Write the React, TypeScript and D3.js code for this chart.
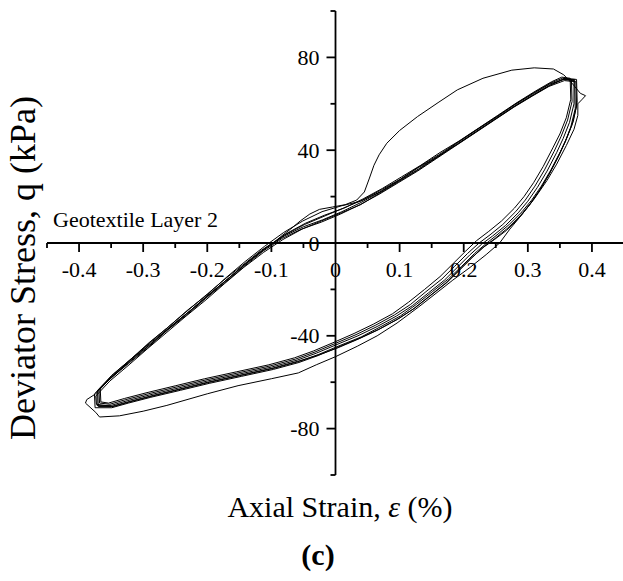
import React from 'react';
import * as d3 from 'd3';

type P = [number, number];

// Axial strain (%) , deviator stress (kPa) – repeated cycles
const cycle1: P[] = [
  [-0.372, -70], [-0.372, -64], [-0.35, -58], [-0.32, -51], [-0.29, -44], [-0.26, -37], [-0.23, -30], [-0.2, -23],
  [-0.17, -16], [-0.14, -9], [-0.11, -2.5], [-0.08, 3], [-0.05, 7], [-0.02, 10], [0.01, 13.5], [0.04, 17.5],
  [0.07, 22], [0.1, 27], [0.13, 32], [0.16, 37.5], [0.19, 42.5], [0.22, 48], [0.25, 53.5], [0.28, 59],
  [0.31, 64], [0.335, 68], [0.355, 70.5], [0.372, 70], [0.372, 60], [0.365, 52], [0.355, 45], [0.345, 39],
  [0.33, 31], [0.315, 24], [0.3, 18], [0.285, 13], [0.265, 7.5], [0.245, 3], [0.228, -0.5], [0.21, -5],
  [0.19, -10.5], [0.17, -16], [0.145, -21.5], [0.12, -27], [0.095, -31.5], [0.065, -36], [0.035, -40], [0.0, -44],
  [-0.03, -47.5], [-0.06, -50.5], [-0.1, -53.5], [-0.15, -56.5], [-0.2, -59.5], [-0.245, -62.5], [-0.29, -65.5],
  [-0.325, -68], [-0.35, -70], [-0.372, -70],
];
const cycle2: P[] = [
  [-0.368, -69], [-0.369, -63], [-0.347, -57.5], [-0.318, -50], [-0.288, -43.5], [-0.257, -36], [-0.228, -29.5],
  [-0.197, -22], [-0.168, -15.5], [-0.138, -8.5], [-0.108, -2], [-0.079, 3.5], [-0.048, 8], [-0.018, 11.5],
  [0.012, 15], [0.042, 18.5], [0.072, 23], [0.101, 27.5], [0.131, 33], [0.161, 38], [0.191, 43.5], [0.221, 49],
  [0.252, 54.5], [0.281, 60], [0.311, 65], [0.336, 69], [0.354, 71], [0.368, 70.5], [0.369, 61], [0.362, 53],
  [0.352, 46], [0.341, 39.5], [0.326, 31.5], [0.311, 24.5], [0.296, 18.5], [0.281, 13.5], [0.261, 8], [0.241, 3.5],
  [0.224, 0], [0.206, -4.5], [0.186, -10], [0.166, -15.5], [0.141, -21], [0.117, -26.5], [0.092, -31], [0.062, -35.5],
  [0.032, -39.5], [-0.002, -43.5], [-0.032, -47], [-0.062, -50], [-0.102, -53], [-0.152, -56], [-0.202, -59],
  [-0.247, -62], [-0.292, -65], [-0.327, -67.5], [-0.352, -69.5], [-0.368, -69],
];
const cycle3: P[] = [
  [-0.375, -71], [-0.376, -65], [-0.354, -59], [-0.323, -52], [-0.292, -45], [-0.262, -37.5], [-0.232, -31],
  [-0.203, -24], [-0.172, -17], [-0.142, -10], [-0.113, -3.5], [-0.083, 2], [-0.053, 6], [-0.022, 9], [0.008, 12.5],
  [0.038, 16.5], [0.068, 21], [0.098, 26], [0.128, 31], [0.158, 36.5], [0.188, 42], [0.218, 47.5], [0.248, 53],
  [0.278, 58.5], [0.308, 63.5], [0.333, 67.5], [0.357, 70], [0.375, 69.5], [0.376, 59], [0.369, 51], [0.359, 44],
  [0.349, 38], [0.334, 30], [0.319, 23], [0.304, 17], [0.289, 12], [0.269, 6.5], [0.249, 2], [0.232, -1.5],
  [0.214, -6], [0.194, -11.5], [0.174, -17], [0.149, -22.5], [0.124, -28], [0.099, -32.5], [0.069, -37],
  [0.038, -41], [0.003, -45], [-0.027, -48.5], [-0.057, -51.5], [-0.097, -54.5], [-0.147, -57.5], [-0.197, -60.5],
  [-0.242, -63.5], [-0.288, -66.5], [-0.323, -69], [-0.349, -71], [-0.375, -71],
];
const cycle4: P[] = [
  [-0.37, -70.5], [-0.371, -63.5], [-0.349, -57], [-0.321, -50.5], [-0.291, -43], [-0.262, -36.5], [-0.231, -29],
  [-0.201, -22.5], [-0.171, -15], [-0.141, -8], [-0.111, -1.5], [-0.081, 4.5], [-0.051, 9.5], [-0.021, 13.5],
  [0.009, 16], [0.039, 18], [0.069, 22], [0.099, 27], [0.129, 32.5], [0.159, 37], [0.189, 43], [0.219, 48.5],
  [0.249, 54], [0.279, 59.5], [0.309, 64.5], [0.334, 68.5], [0.356, 70.5], [0.373, 70.5], [0.374, 58], [0.367, 50],
  [0.358, 43.5], [0.347, 37], [0.333, 29.5], [0.318, 22.5], [0.303, 16.5], [0.287, 11], [0.267, 5.5], [0.248, 1.5],
  [0.23, -2], [0.212, -6.5], [0.192, -12], [0.171, -17.5], [0.146, -23], [0.121, -28.5], [0.096, -33], [0.066, -37.5],
  [0.035, -41.5], [0.001, -45.5], [-0.029, -48.5], [-0.059, -51], [-0.099, -54], [-0.149, -57], [-0.199, -60],
  [-0.244, -63], [-0.289, -66], [-0.324, -68.5], [-0.35, -70.5], [-0.37, -70.5],
];
const cycle5: P[] = [
  [-0.366, -68.5], [-0.367, -62.5], [-0.346, -56.5], [-0.317, -49.5], [-0.286, -42.5], [-0.255, -35.5], [-0.226, -29],
  [-0.196, -22], [-0.166, -15], [-0.136, -8], [-0.106, -1.5], [-0.077, 4], [-0.047, 8.5], [-0.017, 12], [0.013, 15],
  [0.043, 19], [0.073, 23.5], [0.103, 28.5], [0.133, 33.5], [0.163, 39], [0.193, 44], [0.223, 49.5], [0.253, 55],
  [0.283, 60.5], [0.312, 65.5], [0.337, 69.5], [0.353, 71.5], [0.366, 71], [0.367, 62], [0.36, 54], [0.35, 47],
  [0.339, 41], [0.324, 33], [0.309, 26], [0.294, 20], [0.279, 15], [0.259, 9.5], [0.239, 5], [0.22, 1], [0.203, -3.5],
  [0.183, -9], [0.163, -14.5], [0.139, -20], [0.114, -25.5], [0.089, -30.5], [0.059, -35], [0.029, -39], [-0.004, -43],
  [-0.034, -46.5], [-0.064, -49.5], [-0.104, -52.5], [-0.154, -55.5], [-0.204, -58.5], [-0.249, -61.5],
  [-0.294, -64.5], [-0.329, -67], [-0.354, -69], [-0.366, -68.5],
];
const cycle6: P[] = [
  [-0.373, -69.5], [-0.374, -66], [-0.352, -59.5], [-0.322, -52.5], [-0.293, -45.5], [-0.263, -38.5], [-0.233, -31.5],
  [-0.202, -24.5], [-0.173, -17.5], [-0.143, -10.5], [-0.112, -4], [-0.082, 1.5], [-0.052, 6], [-0.022, 9.5],
  [0.009, 13], [0.039, 16.5], [0.069, 21.5], [0.099, 26.5], [0.129, 31.5], [0.159, 37], [0.189, 42.5], [0.219, 48],
  [0.249, 53.5], [0.279, 59], [0.309, 64], [0.334, 68], [0.358, 71], [0.376, 70.5], [0.377, 60.5], [0.371, 52.5],
  [0.361, 45.5], [0.351, 39.5], [0.336, 31.5], [0.321, 24.5], [0.306, 18.5], [0.291, 13.5], [0.271, 8], [0.252, 3.5],
  [0.236, 0], [0.217, -4.5], [0.197, -10], [0.176, -15.5], [0.151, -21], [0.126, -26.5], [0.101, -31.5], [0.071, -36],
  [0.04, -40.5], [0.004, -44.5], [-0.026, -48], [-0.056, -51], [-0.096, -54], [-0.146, -57], [-0.196, -60],
  [-0.241, -63], [-0.286, -66], [-0.321, -68.5], [-0.347, -70.5], [-0.373, -69.5],
];
// first (outlying) cycle
const cycleFirst: P[] = [
  [-0.374, -65], [-0.35, -58], [-0.32, -50.5], [-0.29, -43], [-0.26, -36], [-0.23, -29], [-0.2, -22], [-0.17, -15],
  [-0.14, -8.5], [-0.115, -3], [-0.095, 0.5], [-0.082, 3.5], [-0.07, 6], [-0.055, 9.5], [-0.04, 12.5], [-0.025, 14.5],
  [-0.005, 15.5], [0.015, 16.5], [0.033, 18.5], [0.045, 22], [0.053, 28], [0.06, 33.5], [0.068, 38], [0.08, 43],
  [0.1, 48.5], [0.128, 54.5], [0.16, 60.5], [0.19, 66], [0.23, 71], [0.275, 74.5], [0.31, 75.5], [0.34, 75],
  [0.356, 72.5], [0.37, 68.5], [0.382, 64.5], [0.39, 63.5], [0.385, 62], [0.378, 60], [0.378, 55], [0.372, 49],
  [0.36, 42], [0.345, 34], [0.33, 27], [0.31, 19], [0.29, 12], [0.272, 6], [0.256, 0], [0.235, -5], [0.21, -10.5],
  [0.183, -16], [0.16, -21], [0.13, -27.5], [0.096, -34.5], [0.065, -40], [0.034, -44.5], [0, -49], [-0.03, -52.5],
  [-0.058, -56], [-0.1, -58.5], [-0.152, -61.5], [-0.2, -65], [-0.263, -70], [-0.3, -72.5], [-0.337, -74.5],
  [-0.368, -75], [-0.374, -73], [-0.39, -69], [-0.388, -67.5], [-0.374, -65],
];

const cycles: P[][] = [cycleFirst, cycle1, cycle2, cycle3, cycle4, cycle5, cycle6];

const xTicks = [-0.4, -0.3, -0.2, -0.1, 0, 0.1, 0.2, 0.3, 0.4];
const xTickLabels = ['-0.4', '-0.3', '-0.2', '-0.1', '0', '0.1', '0.2', '0.3', '0.4'];
const xMinorTicks = [-0.45, -0.35, -0.25, -0.15, -0.05, 0.05, 0.15, 0.25, 0.35, 0.45];
const yTicks = [-80, -40, 0, 40, 80];
const yTickLabels = ['-80', '-40', '0', '40', '80'];
const yMinorTicks = [-100, -60, -20, 20, 60, 100];

const FONT = 'Liberation Serif, Times New Roman, serif';

export default function App() {
  const W = 623;
  const H = 581;
  const x = d3.scaleLinear().domain([-0.45, 0.45]).range([47, 624]);
  const y = d3.scaleLinear().domain([-100, 100]).range([475, 11]);
  const line = d3
    .line<P>()
    .x((d) => x(d[0]))
    .y((d) => y(d[1]));
  const x0 = x(0);
  const y0 = y(0);
  const ts = { fontFamily: FONT };

  return (
    <svg
      width={W}
      height={H}
      viewBox={`0 0 ${W} ${H}`}
      style={{ position: 'absolute', left: 0, top: 0, background: '#fff' }}
    >
      <rect x={0} y={0} width={W} height={H} fill="#fff" />
      {/* tick labels */}
      {xTicks.map((t, i) => (
        <text key={'xl' + i} x={x(t)} y={y0 + 34} fontSize={22} textAnchor="middle" fill="#000" style={ts}>
          {xTickLabels[i]}
        </text>
      ))}
      {yTicks.map((t, i) => (
        <text key={'yl' + i} x={x0 - 16} y={y(t) + 7.5} fontSize={22} textAnchor="end" fill="#000" style={ts}>
          {yTickLabels[i]}
        </text>
      ))}
      {/* data */}
      <g fill="none" stroke="#000" strokeWidth={1} strokeLinejoin="round">
        {cycles.map((c, i) => (
          <path key={'c' + i} d={line(c) || ''} />
        ))}
      </g>
      {/* axes */}
      <g stroke="#000" strokeWidth={1.8}>
        <line x1={x(-0.45)} x2={x(0.45)} y1={y0} y2={y0} />
        <line x1={x0} x2={x0} y1={y(-100)} y2={y(100)} />
        {xTicks.filter((t) => t !== 0).map((t, i) => (
          <line key={'xt' + i} x1={x(t)} x2={x(t)} y1={y0} y2={y0 + 9} />
        ))}
        {xMinorTicks.map((t, i) => (
          <line key={'xm' + i} x1={x(t)} x2={x(t)} y1={y0} y2={y0 + 5} />
        ))}
        {yTicks.filter((t) => t !== 0).map((t, i) => (
          <line key={'yt' + i} x1={x0 - 9} x2={x0} y1={y(t)} y2={y(t)} />
        ))}
        {yMinorTicks.map((t, i) => (
          <line key={'ym' + i} x1={x0 - 5} x2={x0} y1={y(t)} y2={y(t)} />
        ))}
      </g>
      {/* texts */}
      <text x={53} y={227} fontSize={22} fill="#000" style={ts}>
        Geotextile Layer 2
      </text>
      <text
        transform="translate(35, 268) rotate(-90)"
        fontSize={36}
        textAnchor="middle"
        fill="#000"
        style={ts}
      >
        Deviator Stress, q (kPa)
      </text>
      <text x={340} y={517} fontSize={30} textAnchor="middle" fill="#000" style={ts}>
        Axial Strain, <tspan fontStyle="italic">ε</tspan> (%)
      </text>
      <text x={318} y={565} fontSize={30} fontWeight="bold" textAnchor="middle" fill="#000" style={ts}>
        (c)
      </text>
    </svg>
  );
}
